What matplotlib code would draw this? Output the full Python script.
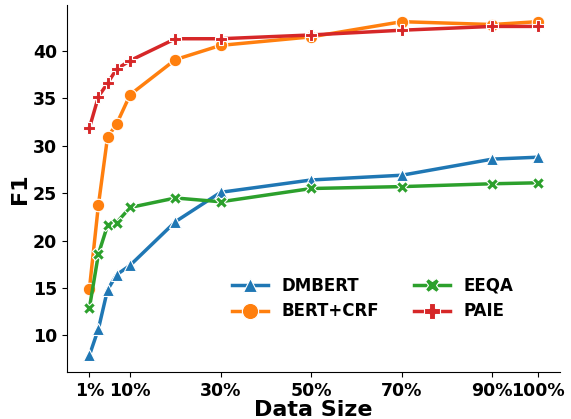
import matplotlib
matplotlib.use("Agg")
import matplotlib.pyplot as plt

sizes = [1, 3, 5, 7, 10, 20, 30, 50, 70, 90, 100]
dmbert = [7.9, 10.7, 14.8, 16.4, 17.4, 22.0, 25.1, 26.4, 26.9, 28.6, 28.8]
bert_crf = [14.9, 23.8, 30.9, 32.3, 35.4, 39.1, 40.6, 41.5, 43.1, 42.8, 43.1]
eeqa = [12.9, 18.6, 21.6, 21.9, 23.5, 24.5, 24.1, 25.5, 25.7, 26.0, 26.1]
paie = [31.9, 35.2, 36.6, 38.1, 39.0, 41.3, 41.3, 41.7, 42.2, 42.6, 42.6]

tick_pos = [1, 10, 30, 50, 70, 90, 100]
tick_labels = ["1%", "10%", "30%", "50%", "70%", "90%", "100%"]

series = [
    ("DMBERT", dmbert, "#1f77b4", "^", 8),
    ("BERT+CRF", bert_crf, "#ff7f0e", "o", 9),
    ("EEQA", eeqa, "#2ca02c", "X", 8),
    ("PAIE", paie, "#d62728", "P", 9),
]

plt.rcParams["font.weight"] = "bold"
plt.rcParams["axes.labelweight"] = "bold"

fig = plt.figure(figsize=(5.71, 4.19), dpi=100)
ax = fig.add_axes([67 / 571, 47 / 419, 493 / 571, 367 / 419])

for name, vals, col, mk, ms in series:
    ax.plot(sizes, vals, color=col, marker=mk, markersize=ms, linewidth=2.5,
            markeredgecolor="white", markeredgewidth=0.8, label=name)

ax.set_xticks(tick_pos)
ax.set_xticklabels(tick_labels)
ax.tick_params(axis="both", labelsize=12.5)
for lab in ax.get_xticklabels() + ax.get_yticklabels():
    lab.set_fontweight("bold")

ax.set_xlabel("Data Size", fontsize=16, fontweight="bold", labelpad=0)
ax.set_ylabel("F1", fontsize=16, fontweight="bold", labelpad=2)

ax.spines["top"].set_visible(False)
ax.spines["right"].set_visible(False)

leg = ax.legend(ncol=2, frameon=False, fontsize=12, loc="upper left",
                bbox_to_anchor=(0.305, 0.30), columnspacing=2.1,
                handlelength=2.15, markerscale=1.3, labelspacing=0.45)
for t in leg.get_texts():
    t.set_fontweight("bold")

fig.savefig("out.png", dpi=100)
